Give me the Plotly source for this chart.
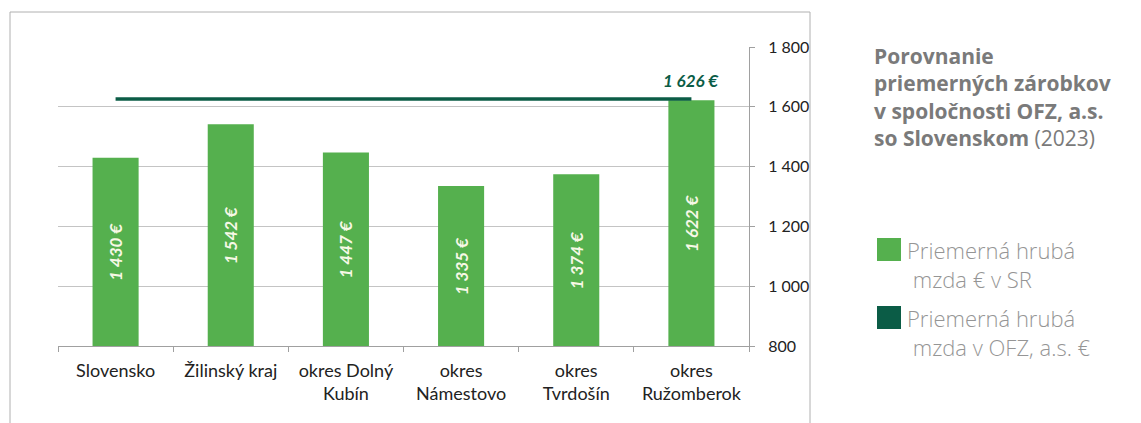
import plotly.graph_objects as go

categories = ["Slovensko", "Žilinský kraj", "okres Dolný<br>Kubín", "okres<br>Námestovo",
              "okres<br>Tvrdošín", "okres<br>Ružomberok"]
sr_wage = [1430, 1542, 1447, 1335, 1374, 1622]
ofz_wage = [1626, 1626, 1626, 1626, 1626, 1626]
bar_labels = ["1 430 €", "1 542 €", "1 447 €", "1 335 €", "1 374 €", "1 622 €"]
ofz_label = "1 626 €"
y_min, y_max = 800, 1800
y_ticks = [800, 1000, 1200, 1400, 1600, 1800]
y_ticktext = ["800", "1 000", "1 200", "1 400", "1 600", "1 800"]
legend_names = ["Priemerná hrubá<br> mzda € v SR", "Priemerná hrubá<br> mzda v OFZ, a.s. €"]

OFF = 8  # page body margin
W, H = 1141 - OFF, 423 - OFF
# plot area in reference pixel coordinates
L, R, T, B = 58, 749, 47, 346

def px(x):
    return (x - L) / (R - L)

def py(y):
    return (B - y) / (B - T)

BAR = "#55b04e"
LINE = "#0b5c46"
FONT = "Lato, Open Sans, sans-serif"
TFONT = "Open Sans, Lato, sans-serif"
LFONT = "Open Sans Light, Open Sans, Lato, sans-serif"

fig = go.Figure()
fig.add_trace(go.Bar(
    x=categories, y=[v - y_min for v in sr_wage], base=[y_min] * len(sr_wage),
    marker=dict(color=BAR, line=dict(width=0)),
    text=bar_labels, textposition="inside", insidetextanchor="middle",
    textangle=-90,
    textfont=dict(family=FONT, size=17, color="#f7f8e6", weight="bold", style="italic"),
    name="SR", showlegend=False,
))
fig.add_trace(go.Scatter(
    x=categories, y=ofz_wage, mode="lines",
    line=dict(color=LINE, width=3.5),
    name="OFZ", showlegend=False, cliponaxis=False,
))
fig.add_annotation(
    x=categories[-1], y=ofz_wage[-1], xref="x", yref="y", text=ofz_label,
    showarrow=False, yanchor="bottom", yshift=6,
    font=dict(family=FONT, size=17, color=LINE, weight="bold", style="italic"),
)

fig.update_layout(
    width=W, height=H,
    margin=dict(l=L - OFF, r=W - (R - OFF), t=T - OFF, b=H - (B - OFF), pad=0),
    paper_bgcolor="white", plot_bgcolor="white",
    bargap=0.6, showlegend=False,
    font=dict(family=FONT, color="#333333"),
)
fig.update_xaxes(
    type="category", tickson="boundaries", ticks="outside", ticklen=5,
    tickcolor="#a0a0a0", showline=True, linecolor="#a0a0a0", linewidth=1,
    showgrid=False, tickfont=dict(size=18, color="#222222"), ticklabelstandoff=8,
)
fig.update_yaxes(
    side="right", range=[y_min, y_max], tickvals=y_ticks, ticktext=y_ticktext,
    ticks="outside", ticklen=5, tickcolor="#a0a0a0",
    showline=True, linecolor="#a0a0a0", linewidth=1,
    showgrid=True, gridcolor="#c4c4c4", gridwidth=1, zeroline=False,
    tickfont=dict(size=16, color="#222222"), ticklabelstandoff=10,
)

# outer chart-area border
fig.add_shape(type="rect", xref="paper", yref="paper",
              x0=px(10), x1=px(810), y0=py(440), y1=py(12),
              line=dict(color="#b0b0b0", width=1), fillcolor="rgba(0,0,0,0)", layer="below")

# title
fig.add_annotation(
    xref="paper", yref="paper", x=px(872), y=py(40), xanchor="left", yanchor="top",
    align="left", showarrow=False,
    text=("<b>Porovnanie<br>priemerných zárobkov<br>v spoločnosti OFZ, a.s.<br>"
          "so Slovenskom</b> (2023)"),
    font=dict(family=TFONT, size=21, color="#7a7a7a"),
)

# manual legend
for i, (name, col) in enumerate(zip(legend_names, [BAR, LINE])):
    ytop = 238 + i * 68
    fig.add_shape(type="rect", xref="paper", yref="paper",
                  x0=px(877), x1=px(901), y0=py(ytop + 23), y1=py(ytop),
                  fillcolor=col, line=dict(width=0))
    fig.add_annotation(
        xref="paper", yref="paper", x=px(905), y=py(ytop - 5), xanchor="left", yanchor="top",
        align="left", showarrow=False, text=name,
        font=dict(family=LFONT, size=22, color="#959595", weight=300),
    )

fig.write_html("out.html")
